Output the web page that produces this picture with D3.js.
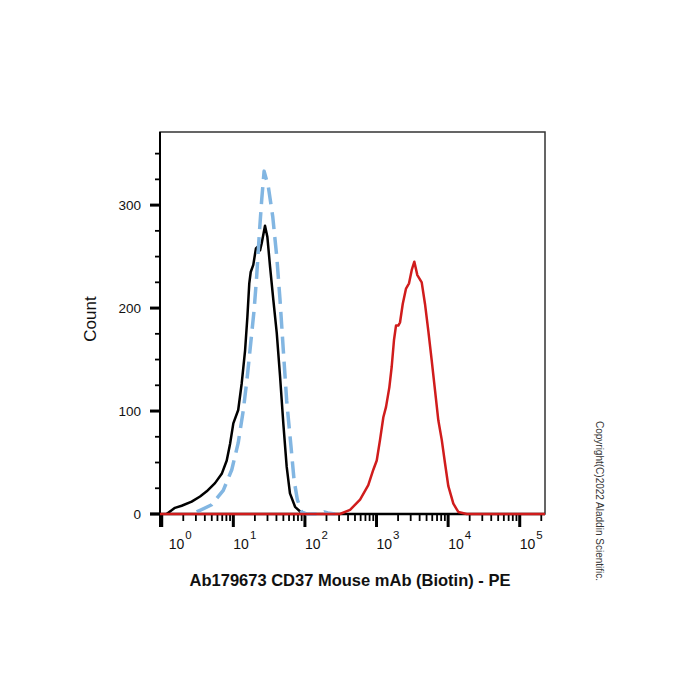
<!DOCTYPE html>
<html lang="en">
<head>
    <meta charset="UTF-8">
    <title>CD37 flow histogram</title>
    <script src="https://cdn.jsdelivr.net/npm/d3@7"></script>
    <style>
        body { margin: 0; background: #fff; }
        text { font-family: Arial, "Liberation Sans", sans-serif; }
    </style>
</head>
<body>
<script>
    // fluorescence intensity (PE) and cell count
    const isoX = [1.17, 1.53, 1.90, 2.62, 3.43, 4.25, 5.55, 6.89, 8.09, 9.0, 10.0, 11.7, 13.1, 14.6, 15.7, 16.7, 17.5, 19.0,
        20.7, 22.3, 23.6, 24.9, 27.7, 29.9, 32.6, 36.2, 40.4, 44.9, 49.9, 55.6, 61.8, 72.8, 90.2, 106]
    const isoY = [0, 6, 8, 12, 17, 22, 30, 39, 52, 68, 88, 101, 127, 159, 191, 224, 235, 242,
        258, 260, 256, 263, 280, 269, 240, 208, 176, 134, 88, 46, 20, 7, 1, 0]

    const blankX = [3.08, 4.99, 7.24, 9.51, 11.7, 13.8, 15.7, 17.5, 19.5, 21.2, 23.1, 24.9, 26.9, 30.8, 35.5, 40.4,
        44.9, 49.9, 55.6, 63.4, 70.5, 78.3, 90.2, 106, 162, 186, 209, 263]
    const blankY = [2, 9, 23, 43, 69, 101, 134, 166, 198, 231, 273, 305, 333, 318, 289, 250,
        208, 159, 110, 68, 33, 14, 2, 0, 0, 2, 1, 0]

    const cd37X = [0.946, 309, 427, 589, 767, 902, 1007, 1119, 1245, 1358, 1510, 1629, 1754, 1871, 2014, 2128, 2323,
        2582, 2844, 3105, 3373, 3715, 4276, 4753, 5284, 5902, 6561, 7295, 8147, 9057, 10069, 11830, 13870, 18200, 225400]
    const cd37Y = [0, 0, 4, 14, 28, 43, 52, 72, 94, 104, 123, 143, 169, 183, 183, 186, 204,
        219, 224, 237, 245, 232, 225, 204, 178, 149, 120, 91, 72, 49, 27, 10, 2, 0, 0]

    const yTicks = [0, 100, 200, 300]
    const xDecades = [0, 1, 2, 3, 4, 5]
    const xDomain = [0.946, 225400]
    const yDomain = [0, 371]

    const [width, height] = [700, 700]
    const m = {left: 160, top: 132, right: 545, bottom: 514}

    const svg = d3.select('body').append('svg')
        .attr('width', width)
        .attr('height', height)

    const x = d3.scaleLog().domain(xDomain).range([m.left, m.right])
    const y = d3.scaleLinear().domain(yDomain).range([m.bottom, m.top])

    // frame
    svg.append('rect')
        .attr('x', m.left).attr('y', m.top)
        .attr('width', m.right - m.left).attr('height', m.bottom - m.top)
        .attr('fill', 'none').attr('stroke', '#333').attr('stroke-width', 1.5)

    // y axis: major every 100, minor every 25
    const yMinor = d3.range(25, yDomain[1], 25).filter(v => v % 100 !== 0)
    const gy = svg.append('g')
    gy.append('line')
        .attr('x1', m.left).attr('x2', m.left)
        .attr('y1', m.top).attr('y2', m.bottom + 13)
        .attr('stroke', '#000').attr('stroke-width', 2)
    gy.selectAll('line.minor').data(yMinor).enter().append('line')
        .attr('class', 'minor')
        .attr('x1', m.left - 5).attr('x2', m.left)
        .attr('y1', d => y(d)).attr('y2', d => y(d))
        .attr('stroke', '#000').attr('stroke-width', 1.8)
    gy.selectAll('line.major').data(yTicks).enter().append('line')
        .attr('class', 'major')
        .attr('x1', m.left - 10).attr('x2', m.left)
        .attr('y1', d => y(d)).attr('y2', d => y(d))
        .attr('stroke', '#000').attr('stroke-width', 3)
    gy.selectAll('text').data(yTicks).enter().append('text')
        .attr('x', m.left - 19)
        .attr('y', d => y(d) + 5)
        .attr('text-anchor', 'end')
        .attr('font-size', 13.5)
        .attr('fill', '#111')
        .text(d => d)

    svg.append('text')
        .attr('transform', 'translate(96, 319) rotate(-90)')
        .attr('text-anchor', 'middle')
        .attr('font-size', 17)
        .attr('fill', '#111')
        .text('Count')

    // x axis: log decades with 2..9 minor ticks
    const xMinor = []
    xDecades.forEach(d => {
        for (let k = 2; k <= 9; k++) {
            const v = k * Math.pow(10, d)
            if (v <= xDomain[1]) xMinor.push(v)
        }
    })
    const gx = svg.append('g')
    gx.append('line')
        .attr('x1', m.left - 10).attr('x2', m.right)
        .attr('y1', m.bottom).attr('y2', m.bottom)
        .attr('stroke', '#000').attr('stroke-width', 2.5)
    gx.selectAll('line.minor').data(xMinor).enter().append('line')
        .attr('class', 'minor')
        .attr('x1', d => x(d)).attr('x2', d => x(d))
        .attr('y1', m.bottom).attr('y2', m.bottom + 7)
        .attr('stroke', '#000').attr('stroke-width', 1.8)
    gx.selectAll('line.major').data(xDecades).enter().append('line')
        .attr('class', 'major')
        .attr('x1', d => x(Math.pow(10, d))).attr('x2', d => x(Math.pow(10, d)))
        .attr('y1', m.bottom).attr('y2', m.bottom + 13)
        .attr('stroke', '#000').attr('stroke-width', 3)
    const lab = gx.selectAll('text').data(xDecades).enter().append('text')
        .attr('x', d => x(Math.pow(10, d)) + (d === 0 ? 7 : 0))
        .attr('y', 549)
        .attr('font-size', 14)
        .attr('fill', '#111')
    lab.append('tspan').text('10')
    lab.append('tspan').attr('dx', 1).attr('dy', -10).attr('font-size', 11.5).text(d => d)

    svg.append('text')
        .attr('x', 350).attr('y', 586)
        .attr('text-anchor', 'middle')
        .attr('font-size', 16.5)
        .attr('font-weight', 'bold')
        .attr('fill', '#111')
        .text('Ab179673 CD37 Mouse mAb (Biotin) - PE')

    svg.append('text')
        .attr('transform', 'translate(596, 501) rotate(90)')
        .attr('text-anchor', 'middle')
        .attr('font-size', 10)
        .attr('fill', '#333')
        .text('Copyright(C)2022 Aladdin Scientific.')

    // histograms
    const line = d3.line().x(d => x(d[0])).y(d => y(d[1]))
    const series = [
        {xs: isoX, ys: isoY, color: '#000', dash: null, w: 2.5},
        {xs: blankX, ys: blankY, color: '#82b6e2', dash: '17,8', w: 3.5},
        {xs: cd37X, ys: cd37Y, color: '#d01c1c', dash: null, w: 2.5},
    ]
    svg.append('g').selectAll('path').data(series).enter().append('path')
        .attr('d', s => line(s.xs.map((v, i) => [v, s.ys[i]])))
        .attr('fill', 'none')
        .attr('stroke', s => s.color)
        .attr('stroke-width', s => s.w)
        .attr('stroke-dasharray', s => s.dash)
        .attr('stroke-linejoin', 'round')
</script>
</body>
</html>
